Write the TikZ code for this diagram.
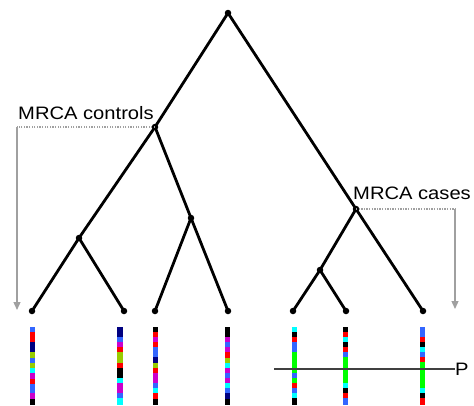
\documentclass[tikz,border=0pt]{standalone}
\usepackage{fontspec}
\setmainfont{Liberation Sans}
\usetikzlibrary{arrows.meta}
% marker colours
\definecolor{blu}{HTML}{3366FF}
\definecolor{red}{HTML}{FF0000}
\definecolor{nvy}{HTML}{000080}
\definecolor{ygr}{HTML}{99CC00}
\definecolor{cyn}{HTML}{00FFFF}
\definecolor{mag}{HTML}{CC00CC}
\definecolor{blk}{HTML}{000000}
\definecolor{grn}{HTML}{00FF00}
\definecolor{guidegray}{HTML}{A0A0A0}
\tikzset{
  dot/.style={circle,fill=black,inner sep=0pt,minimum size=6.5pt},
  branch/.style={line width=2.8pt,black,line cap=round},
  guide/.style={guidegray,line width=1.3pt},
  guidedots/.style={guidegray,line width=1.3pt,dash pattern=on 1.3pt off 1.3pt},
  lbl/.style={font=\fontsize{18}{20}\selectfont,inner sep=0pt,xscale=1.12},
}
% one coloured marker strip: x centre, list of colour/top/bottom
\newcommand{\haplostrip}[2]{%
  \foreach \c/\a/\b in {#2}{%
    \fill[\c] (#1-2.6,\a) rectangle (#1+2.6,\b);%
  }%
}
\begin{document}
\begin{tikzpicture}[x=1pt,y=-1pt]
\useasboundingbox (0,0) rectangle (474,405);

% tree nodes
\node[dot] (root) at (228,13) {};
\node[dot] (mctrl) at (155,127) {};
\node[dot] (mcase) at (356,209) {};
\node[dot] (nA) at (79,238) {};
\node[dot] (nB) at (191,218) {};
\node[dot] (nC) at (320,270) {};
\node[dot] (l1) at (32,311) {};
\node[dot] (l2) at (124,311) {};
\node[dot] (l3) at (155,311) {};
\node[dot] (l4) at (228,311) {};
\node[dot] (l5) at (293,311) {};
\node[dot] (l6) at (346,311) {};
\node[dot] (l7) at (423,311) {};

% branches
\draw[branch] (root.center) -- (mctrl.center);
\draw[branch] (root.center) -- (mcase.center);
\draw[branch] (mctrl.center) -- (nA.center);
\draw[branch] (mctrl.center) -- (nB.center);
\draw[branch] (nA.center) -- (l1.center);
\draw[branch] (nA.center) -- (l2.center);
\draw[branch] (nB.center) -- (l3.center);
\draw[branch] (nB.center) -- (l4.center);
\draw[branch] (mcase.center) -- (nC.center);
\draw[branch] (mcase.center) -- (l7.center);
\draw[branch] (nC.center) -- (l5.center);
\draw[branch] (nC.center) -- (l6.center);

% labels
\node[lbl,anchor=base west] (tctrl) at (18,119.5) {MRCA controls};
\node[lbl,anchor=base west] (tcase) at (353,199.5) {MRCA cases};

% guide lines from the MRCA nodes
\coordinate (gc1) at (17,127);
\coordinate (gc2) at (17,310);
\coordinate (gk1) at (455,209);
\coordinate (gk2) at (455,309);
\draw[guidedots] (mctrl.center) -- (gc1);
\draw[guide,-{Triangle[width=7pt,length=8pt]}] (gc1) -- (gc2);
\draw[guidedots] (mcase.center) -- (gk1);
\draw[guide,-{Triangle[width=7pt,length=8pt]}] (gk1) -- (gk2);

% marker strips under the leaves
\haplostrip{32.5}{blu/327/332,red/332/342,nvy/342/352,ygr/352/358,blu/358/363,ygr/363/368,cyn/368/373,mag/373/379,red/379/384,blu/384/393,mag/393/399,blk/399/405}
\haplostrip{120}{nvy/327/337,blu/337/342,mag/342/347,red/347/352,ygr/352/363,red/363/368,blk/368/378,cyn/378/383,mag/383/393,blu/393/398,cyn/398/405}
\haplostrip{155.5}{blk/327/332,red/332/337,mag/337/342,red/342/347,blu/347/357,nvy/357/363,ygr/363/368,red/368/373,mag/373/383,blu/383/388,cyn/388/393,red/393/399,blk/399/405}
\haplostrip{227.5}{blk/327/337,mag/337/342,blu/342/347,mag/347/352,red/352/358,ygr/358/363,cyn/363/368,mag/368/373,blu/373/378,mag/378/383,cyn/383/388,blu/388/393,nvy/393/399,blk/399/405}
\haplostrip{294.5}{cyn/327/332,blk/332/337,red/337/342,blu/342/352,grn/352/373,blu/373/378,grn/378/383,red/383/388,blu/388/393,cyn/393/398,blk/398/405}
\haplostrip{345.5}{blk/327/332,red/332/337,cyn/337/342,blk/342/347,red/347/352,blu/352/357,grn/357/383,cyn/383/388,blk/388/393,red/393/398,blu/398/405}
\haplostrip{422.5}{blu/327/337,red/337/342,blk/342/347,cyn/347/352,blu/352/357,red/357/362,grn/362/388,cyn/388/393,blk/393/398,red/398/405}

% position line P
\coordinate (p0) at (274,369);
\node[lbl,anchor=west] (plbl) at (455,369) {P};
\draw[line width=1.1pt,black!75] (p0) -- (plbl.west);
\end{tikzpicture}
\end{document}
